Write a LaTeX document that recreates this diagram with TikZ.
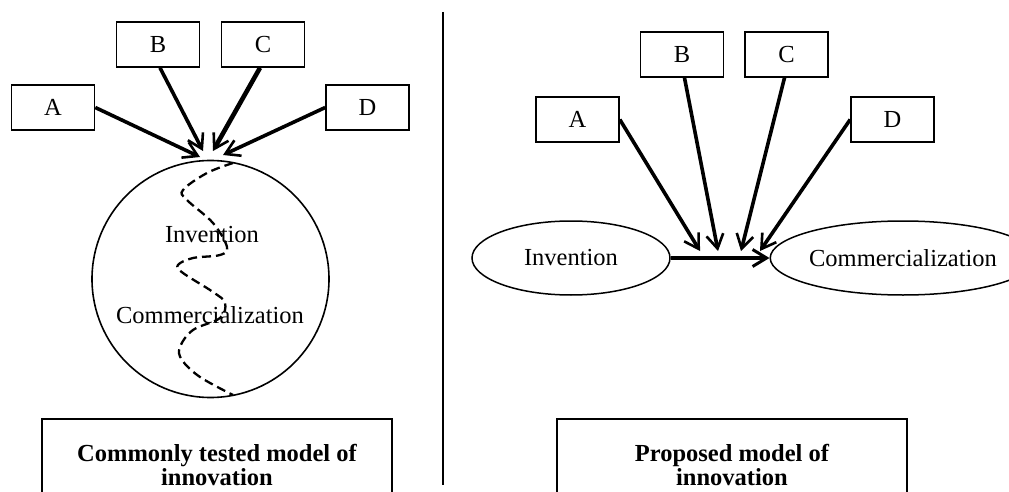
\documentclass[tikz,border=0pt]{standalone}
\usepackage{fontspec}
\setmainfont{Liberation Serif}
\usetikzlibrary{arrows.meta,shapes.geometric}

\tikzset{
	factor/.style={draw, line width=1.6pt, minimum width=83pt, minimum height=45pt, inner sep=0pt},
	phase/.style={draw, ellipse, line width=1.5pt, inner sep=0pt, minimum height=74pt},
	push/.style={line width=3.6pt, -{Straight Barb[length=14pt,width=17pt,line width=2.6pt]}},
	caption/.style={align=center, font=\fontsize{24.5}{24}\selectfont\bfseries}
}

\begin{document}
\begin{tikzpicture}[x=1pt, y=-1pt, color=black, font=\fontsize{24.5}{29}\selectfont]
		\useasboundingbox (0,0) rectangle (1009,492);

		% commonly tested model
		\node[factor] (cA) at (53,107.5) {A};
		\node[factor] (cB) at (158,44.5) {B};
		\node[factor] (cC) at (263,44.5) {C};
		\node[factor] (cD) at (367.5,107.5) {D};
		\node[draw, circle, line width=1.6pt, minimum size=237pt, inner sep=0pt] (blob) at (210.5,279) {};
		\node (cInv) at (212,235) {Invention};
		\node (cCom) at (210,315) {Commercialization};

		\coordinate (hitA) at (200,157);
		\coordinate (hitB) at (203,151);
		\coordinate (hitC) at (213,151);
		\coordinate (hitD) at (223,155);
		\draw[push] (cA.east) -- (hitA);
		\draw[push] (cB.south) ++(2,0) -- (hitB);
		\draw[push, line width=4.6pt] (cC.south) ++(-3,0) -- (hitC);
		\draw[push] (cD.west) -- (hitD);

		\draw[line width=2.3pt, dash pattern=on 9pt off 5pt] plot[smooth, tension=0.6] coordinates {
			(233,163) (207,173) (183,190) (187,200) (213,223) (227,247) (220,255)
			(193,258) (178,265) (183,273) (213,292) (225,303) (220,318) (193,330)
			(180,347) (182,360) (200,377) (233,395)};

		% divider
		\draw[line width=1.6pt] (443,12) -- (443,485);

		% proposed model
		\node[factor] (pA) at (577.5,119.5) {A};
		\node[factor] (pB) at (682,54.5) {B};
		\node[factor] (pC) at (786.5,54.5) {C};
		\node[factor] (pD) at (892.5,119.5) {D};
		\node[phase, minimum width=198pt] (pInv) at (571,258) {Invention};
		\node[phase, minimum width=210pt] (pCom) at (903,258) {Commercialization};

		\draw[line width=4.6pt, -{Straight Barb[length=14pt,width=17pt,line width=3pt]}] (pInv.east) -- (pCom.west);

		\coordinate (hitA2) at (700,251);
		\coordinate (hitB2) at (718,251);
		\coordinate (hitC2) at (741,251);
		\coordinate (hitD2) at (760,251);
		\draw[push] (pA.east) -- (hitA2);
		\draw[push] (pB.south) ++(2.5,0) -- (hitB2);
		\draw[push] (pC.south) ++(-2,0) -- (hitC2);
		\draw[push] (pD.west) -- (hitD2);

		% captions
		\draw[line width=1.6pt] (42,492) -- (42,419) -- (392,419) -- (392,492);
		\node[caption] (capL) at (217,465) {Commonly tested model of\\innovation};
		\draw[line width=1.6pt] (557,492) -- (557,419) -- (907,419) -- (907,492);
		\node[caption] (capR) at (732,465) {Proposed model of\\innovation};
	\end{tikzpicture}
\end{document}
